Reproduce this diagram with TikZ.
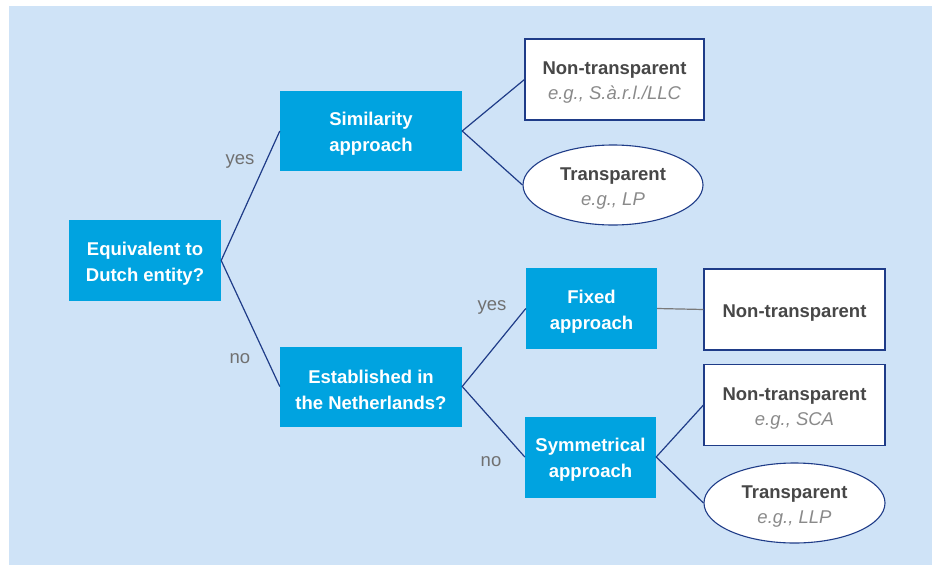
\documentclass[tikz,border=0pt]{standalone}
\usepackage{fontspec}
\setmainfont{Liberation Sans}
\usetikzlibrary{shapes.geometric}
\definecolor{bgblue}{HTML}{CFE3F7}
\definecolor{boxblue}{HTML}{00A3E0}
\definecolor{navy}{HTML}{1F3C88}
\definecolor{darktext}{HTML}{474747}
\definecolor{itgray}{HTML}{8A8A8A}
\definecolor{lblgray}{HTML}{707070}
\definecolor{lngray}{HTML}{7A7A7A}
\tikzset{
  txt/.style={font=\fontsize{18.5}{26}\selectfont, align=center, inner sep=0pt},
  qbox/.style={txt, fill=boxblue, text=white, font=\fontsize{18.5}{26}\selectfont\bfseries},
  resbox/.style={txt, fill=white, draw=navy, line width=1.1pt, text=darktext},
  resell/.style={txt, ellipse, fill=white, draw=navy, line width=1.1pt, text=darktext},
  conn/.style={draw=navy, line width=1.2pt},
  lbl/.style={txt, text=lblgray},
}
\newcommand{\dn}{\rule{0pt}{19.5pt}}
\newcommand{\eg}[1]{\\[-1pt]{\color{itgray}\itshape\mdseries #1}}
\begin{document}
\begin{tikzpicture}[x=1pt,y=-1pt]
\useasboundingbox (0,0) rectangle (932,565);
\fill[bgblue] (9,6) rectangle (932,565);

\node[qbox, minimum width=152pt, minimum height=81pt] (equiv) at (145,260.5) {\dn Equivalent to\\Dutch entity?};
\node[qbox, minimum width=182pt, minimum height=80pt] (sim) at (371,131) {\dn Similarity\\approach};
\node[qbox, minimum width=182pt, minimum height=80pt] (est) at (371,386.5) {\dn Established in\\the Netherlands?};
\node[qbox, minimum width=131pt, minimum height=81pt] (fixed) at (591.5,308.5) {\dn Fixed\\approach};
\node[qbox, minimum width=131pt, minimum height=81pt] (sym) at (590.5,457) {\dn Symmetrical\\approach};

\node[resbox, minimum width=179pt, minimum height=81pt] (nt1) at (614.5,79.5) {\dn\bfseries Non-transparent\eg{e.g., S.à.r.l./LLC}};
\node[resell, minimum width=180pt, minimum height=80pt] (tr1) at (613,185) {\dn\bfseries Transparent\eg{e.g., LP}};
\node[resbox, minimum width=181pt, minimum height=81pt] (nt2) at (794.5,309.5) {\dn\bfseries Non-transparent};
\node[resbox, minimum width=181pt, minimum height=81pt] (nt3) at (794.5,405) {\dn\bfseries Non-transparent\eg{e.g., SCA}};
\node[resell, minimum width=181pt, minimum height=80pt] (tr2) at (794.5,503) {\dn\bfseries Transparent\eg{e.g., LLP}};

\draw[conn] (sim.west) -- (equiv.east) -- (est.west);
\draw[conn] (nt1.west) -- (sim.east) -- (tr1.west);
\draw[conn] (fixed.west) -- (est.east) -- (sym.west);
\draw[conn] (nt3.west) -- (sym.east) -- (tr2.west);
\draw[draw=lngray, line width=1.2pt] (fixed.east) -- (nt2.west);

\node[lbl] (yes1) at (240,161) {yes};
\node[lbl] (no1) at (240,359) {no};
\node[lbl] (yes2) at (492,307) {yes};
\node[lbl] (no2) at (491,462) {no};
\end{tikzpicture}
\end{document}
